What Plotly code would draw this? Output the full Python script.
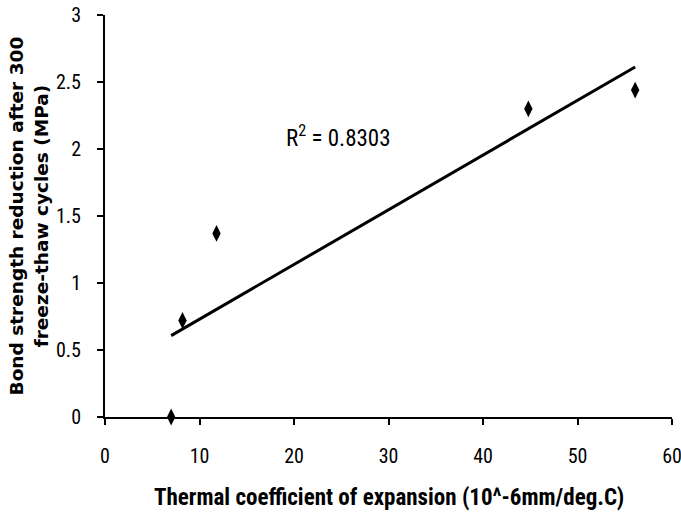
import numpy as np
import plotly.graph_objects as go

# Data
thermal_coeff = [7.0, 8.2, 11.8, 44.8, 56.1]
bond_reduction = [0.0, 0.72, 1.37, 2.30, 2.44]
x_ticks = [0, 10, 20, 30, 40, 50, 60]
y_ticks = [0, 0.5, 1, 1.5, 2, 2.5, 3]
y_tick_labels = ["0", "0.5", "1", "1.5", "2", "2.5", "3"]
r2_label = "R<sup>2</sup> = 0.8303"
x_title = "<b>Thermal coefficient of expansion (10^-6mm/deg.C)</b>"
y_title = "<b>Bond strength reduction after 300<br>freeze-thaw cycles (MPa)</b>"

# Linear trendline (least squares) from the data
slope, intercept = np.polyfit(thermal_coeff, bond_reduction, 1)
trend_x = [min(thermal_coeff), max(thermal_coeff)]
trend_y = [slope * v + intercept for v in trend_x]

narrow = "Roboto Condensed, DejaVu Sans Condensed, sans-serif"

fig = go.Figure()
fig.add_trace(go.Scatter(x=trend_x, y=trend_y, mode="lines",
                         line=dict(color="black", width=3), showlegend=False,
                         hoverinfo="skip"))
fig.add_trace(go.Scatter(x=thermal_coeff, y=bond_reduction, mode="markers",
                         marker=dict(symbol="diamond-tall", size=12, color="black"),
                         showlegend=False, cliponaxis=False))

fig.add_annotation(x=24.7, y=2.09, xref="x", yref="y", text=r2_label,
                   showarrow=False, xanchor="center", yanchor="middle",
                   font=dict(family=narrow, size=23, color="black"))

# Axis titles
fig.add_annotation(x=0.5, y=-0.2, xref="paper", yref="paper", text=x_title,
                   showarrow=False, xanchor="center", yanchor="middle",
                   font=dict(family=narrow, size=23, color="black"))
fig.add_annotation(x=-0.135, y=0.5, xref="paper", yref="paper", text=y_title,
                   showarrow=False, xanchor="center", yanchor="middle", textangle=-90,
                   font=dict(family="DejaVu Sans, sans-serif", size=18.5, color="black"))

fig.update_layout(
    width=681, height=513,
    margin=dict(l=105, r=9, t=15, b=96),
    paper_bgcolor="white", plot_bgcolor="white",
    xaxis=dict(range=[0, 60], tickvals=x_ticks, ticks="outside", ticklen=6,
               tickwidth=1.5, tickcolor="black", showline=True, linecolor="black",
               linewidth=2, showgrid=False, zeroline=False, automargin=False,
               ticklabelstandoff=14, ticklabeloverflow="allow",
               tickfont=dict(family=narrow, size=20, color="black")),
    yaxis=dict(range=[0, 3], tickvals=y_ticks, ticktext=y_tick_labels, ticks="outside",
               ticklen=6, tickwidth=1.5, tickcolor="black", showline=True,
               linecolor="black", linewidth=2, showgrid=False, zeroline=False,
               automargin=False, ticklabelstandoff=12, ticklabeloverflow="allow",
               tickfont=dict(family=narrow, size=20, color="black")),
)

fig.write_html("out.html", config={"displayModeBar": False},
               post_script="document.body.style.margin='0';")
